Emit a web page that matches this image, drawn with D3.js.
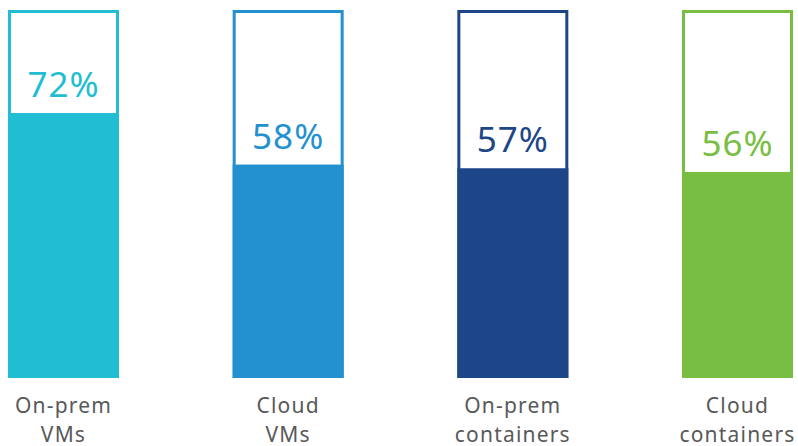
<!DOCTYPE html>
<html>
<head>
<meta charset="utf-8">
<script src="https://cdnjs.cloudflare.com/ajax/libs/d3/7.8.5/d3.min.js"></script>
<style>
body{ margin:0; padding:0; background:#fff; }
svg{ display:block; }
</style>
</head>
<body>
<div id="chart"></div>
<script>
var categories = [["On-prem", "VMs"], ["Cloud", "VMs"], ["On-prem", "containers"], ["Cloud", "containers"]];
var values = [72, 58, 57, 56];
var colors = ["#20bdd3", "#2391d0", "#1d4689", "#78be43"];

var W = 798, H = 446;
var plotTop = 10, plotBottom = 378;

var svg = d3.select("#chart").append("svg")
    .attr("width", W)
    .attr("height", H);

var x = d3.scaleBand()
    .domain(d3.range(values.length))
    .range([8, 793])
    .paddingInner(1 - 111 / 224.7)
    .paddingOuter(0);

var y = d3.scaleLinear()
    .domain([0, 100])
    .range([plotBottom, plotTop]);

var g = svg.selectAll("g.bar")
    .data(values)
    .enter().append("g")
    .attr("class", "bar");

// fill
g.append("rect")
    .attr("x", function(d, i){ return x(i); })
    .attr("width", x.bandwidth())
    .attr("y", function(d){ return y(d); })
    .attr("height", function(d){ return plotBottom - y(d); })
    .attr("fill", function(d, i){ return colors[i]; });

// outline
g.append("rect")
    .attr("x", function(d, i){ return x(i) + 1.5; })
    .attr("width", x.bandwidth() - 3)
    .attr("y", y(100) + 1.5)
    .attr("height", plotBottom - y(100) - 3)
    .attr("fill", "none")
    .attr("stroke-width", 3)
    .attr("stroke", function(d, i){ return colors[i]; });

// value labels
g.append("text")
    .attr("x", function(d, i){ return x(i) + x.bandwidth() / 2; })
    .attr("y", function(d){ return y(d) - 16; })
    .attr("text-anchor", "middle")
    .attr("font-family", "'Noto Sans', sans-serif")
    .attr("font-size", "35px")
    .attr("letter-spacing", "1px")
    .attr("fill", function(d, i){ return colors[i]; })
    .text(function(d){ return d + "%"; });

// category labels
var lab = g.append("text")
    .attr("text-anchor", "middle")
    .attr("font-family", "'Noto Sans', sans-serif")
    .attr("font-size", "21px")
    .attr("letter-spacing", "1.2px")
    .attr("fill", "#58595b");

lab.selectAll("tspan")
    .data(function(d, i){ return categories[i].map(function(t){ return {t: t, i: i}; }); })
    .enter().append("tspan")
    .attr("x", function(d){ return x(d.i) + x.bandwidth() / 2; })
    .attr("y", function(d, j){ return 413 + j * 29; })
    .text(function(d){ return d.t; });
</script>
</body>
</html>
